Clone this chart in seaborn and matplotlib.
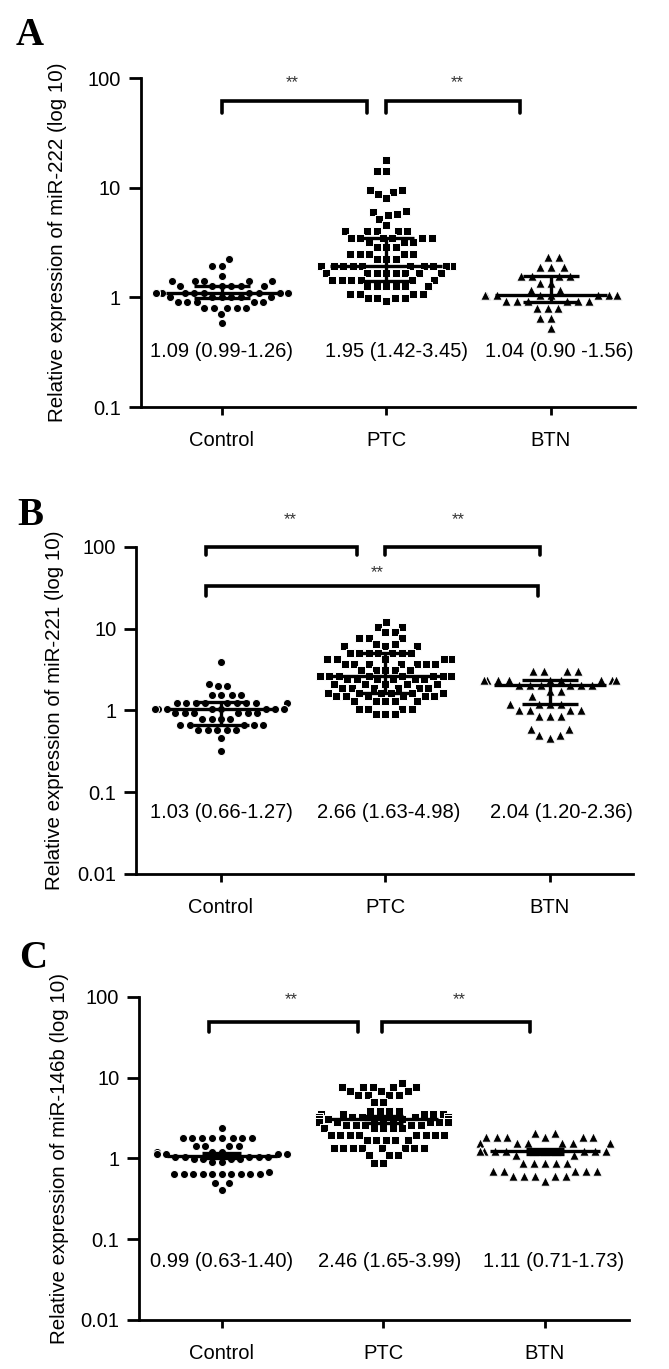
import numpy as np
import pandas as pd
import matplotlib
matplotlib.use("Agg")
import matplotlib.pyplot as plt
import seaborn as sns
from matplotlib.ticker import FixedLocator, FixedFormatter, NullLocator

# ---------------- data ----------------
groups = ["Control", "PTC", "BTN"]
markers = ["o", "s", "^"]

A_control = [2.22, 1.95, 1.95, 1.58, 1.41, 1.41, 1.41, 1.41, 1.41,
             1.28, 1.28, 1.28, 1.28, 1.28, 1.28,
             1.09, 1.09, 1.09, 1.09, 1.09, 1.09, 1.09, 1.09, 1.09, 1.09, 1.09, 1.09, 1.09,
             1.0, 1.0, 1.0, 1.0, 1.0, 1.0, 0.9, 0.9, 0.9, 0.9, 0.9,
             0.8, 0.8, 0.8, 0.8, 0.8, 0.7, 0.58]
A_ptc = [17.9, 14.3, 14.3, 9.6, 9.6, 9.2, 8.7, 8.0, 6.1, 6.0, 5.8, 5.6, 5.2, 4.6,
         4.0, 4.0, 4.0, 4.0, 4.0, 3.45, 3.45, 3.45, 3.45, 3.45, 3.45,
         3.2, 3.2, 3.2, 2.9, 2.9, 2.9, 2.5, 2.5, 2.5, 2.5, 2.5, 2.25, 2.25, 2.25,
         1.95, 1.95, 1.95, 1.95, 1.95, 1.95, 1.95, 1.95, 1.95, 1.95, 1.95, 1.95, 1.95,
         1.66, 1.66, 1.66, 1.66, 1.66, 1.66, 1.66, 1.66,
         1.45, 1.45, 1.45, 1.45, 1.45, 1.45, 1.27, 1.27, 1.27, 1.27, 1.27, 1.27,
         1.08, 1.08, 1.08, 1.08, 0.99, 0.99, 0.99, 0.99, 0.93]
A_btn = [2.35, 2.35, 1.9, 1.9, 1.9, 1.56, 1.56, 1.56, 1.56, 1.34, 1.34, 1.17, 1.17,
         1.04, 1.04, 1.04, 1.04, 1.04, 1.04, 1.04, 1.04, 1.04, 1.04,
         0.92, 0.92, 0.92, 0.92, 0.92, 0.92, 0.8, 0.8, 0.8, 0.65, 0.65, 0.52]

B_control = [3.9, 2.13, 1.98, 1.98, 1.56, 1.56, 1.56, 1.56,
             1.25, 1.25, 1.25, 1.25, 1.25, 1.25, 1.25, 1.25, 1.25,
             1.03, 1.03, 1.03, 1.03, 1.03, 1.03, 1.03, 1.03,
             0.92, 0.92, 0.92, 0.92, 0.92, 0.92, 0.79, 0.79, 0.79, 0.79,
             0.66, 0.66, 0.66, 0.66, 0.66, 0.58, 0.58, 0.58, 0.58, 0.58, 0.46, 0.32]
B_ptc = [12.0, 10.5, 10.5, 9.0, 9.0, 7.6, 7.6, 7.6, 6.5, 6.5, 6.1, 6.1, 6.1,
         4.98, 4.98, 4.98, 4.98, 4.98, 4.98, 4.98, 4.2, 4.2, 4.2, 4.2, 4.2,
         3.7, 3.7, 3.7, 3.7, 3.7, 3.7, 3.7, 3.1, 3.1, 3.1, 3.1, 3.1,
         2.66, 2.66, 2.66, 2.66, 2.66, 2.66, 2.66, 2.66, 2.66, 2.66,
         2.4, 2.4, 2.4, 2.4, 2.4, 2.4, 2.1, 2.1, 2.1, 2.1, 2.1,
         1.9, 1.9, 1.9, 1.9, 1.9, 1.9, 1.63, 1.63, 1.63, 1.63, 1.63, 1.63,
         1.5, 1.5, 1.5, 1.5, 1.5, 1.5, 1.3, 1.3, 1.3, 1.3, 1.3,
         1.05, 1.05, 1.05, 1.05, 0.9, 0.9, 0.9]
B_btn = [3.0, 3.0, 3.0, 3.0, 2.36, 2.36, 2.36, 2.36, 2.36, 2.36, 2.36, 2.36, 2.36,
         2.04, 2.04, 2.04, 2.04, 2.04, 2.04, 1.75, 1.75, 1.5,
         1.2, 1.2, 1.2, 1.2, 1.0, 1.0, 1.0, 1.0, 0.85, 0.85, 0.85,
         0.6, 0.6, 0.5, 0.5, 0.46]

C_control = [2.35, 1.8, 1.8, 1.8, 1.8, 1.8, 1.8, 1.8, 1.8, 1.42, 1.42, 1.42, 1.42,
             1.2, 1.2, 1.2, 1.12, 1.12, 1.12, 1.12, 1.05, 1.05, 1.05, 1.05, 1.05,
             0.98, 0.98, 0.98, 0.98, 0.9, 0.9, 0.68,
             0.64, 0.64, 0.64, 0.64, 0.64, 0.64, 0.64, 0.64, 0.64, 0.64,
             0.49, 0.49, 0.41]
C_ptc = [8.5, 7.7, 7.7, 7.7, 7.7, 7.7, 6.8, 6.8, 6.8, 6.1, 6.1, 6.1, 6.1, 5.0, 5.0,
         3.86, 3.86, 3.86, 3.86, 3.6, 3.6, 3.6, 3.6, 3.6, 3.3, 3.3, 3.3, 3.3, 3.3, 3.3,
         3.05, 3.05, 3.05, 3.05, 3.05, 3.05, 3.05, 2.8, 2.8, 2.8, 2.8, 2.8, 2.8,
         2.6, 2.6, 2.6, 2.6, 2.6, 2.35, 2.35, 2.35, 2.35, 2.35,
         1.95, 1.95, 1.95, 1.95, 1.95, 1.95, 1.95, 1.95, 1.69, 1.69, 1.69, 1.69, 1.69,
         1.33, 1.33, 1.33, 1.33, 1.33, 1.33, 1.33, 1.33, 1.1, 1.1, 1.1, 0.89, 0.89]
C_btn = [2.04, 2.04, 1.82, 1.82, 1.82, 1.82, 1.82, 1.82,
         1.55, 1.55, 1.55, 1.55, 1.55, 1.55, 1.55,
         1.22, 1.22, 1.22, 1.22, 1.22, 1.22, 1.22, 1.22, 1.22, 1.22, 1.1, 1.1,
         0.87, 0.87, 0.87, 0.87, 0.87, 0.7, 0.7, 0.7, 0.7, 0.7,
         0.6, 0.6, 0.6, 0.6, 0.6, 0.53]

A_center = [1.09, 1.95, 1.04]; A_low = [0.99, 1.42, 0.90]; A_high = [1.26, 3.45, 1.56]
B_center = [1.03, 2.66, 2.04]; B_low = [0.66, 1.63, 1.20]; B_high = [1.27, 4.98, 2.36]
C_center = [1.08, 3.05, 1.22]; C_low = [1.0, 2.75, 1.15]; C_high = [1.17, 3.4, 1.3]

A_text = ["1.09 (0.99-1.26)", "1.95 (1.42-3.45)", "1.04 (0.90 -1.56)"]
B_text = ["1.03 (0.66-1.27)", "2.66 (1.63-4.98)", "2.04 (1.20-2.36)"]
C_text = ["0.99 (0.63-1.40)", "2.46 (1.65-3.99)", "1.11 (0.71-1.73)"]

A_ylabel = "Relative expression of miR-222 (log 10)"
B_ylabel = "Relative expression of miR-221 (log 10)"
C_ylabel = "Relative expression of miR-146b (log 10)"

A_yticks = [0.1, 1, 10, 100]; A_yticklabels = ["0.1", "1", "10", "100"]
BC_yticks = [0.01, 0.1, 1, 10, 100]; BC_yticklabels = ["0.01", "0.1", "1", "10", "100"]

# ---------------- style ----------------
sns.set_style("ticks")
plt.rcParams["font.family"] = ["Liberation Sans", "DejaVu Sans"]

fig = plt.figure(figsize=(6.69, 13.69), dpi=100)

panels = [
    dict(letter="A", vals=[A_control, A_ptc, A_btn], center=A_center, low=A_low, high=A_high,
         text=A_text, text_y=0.318, ylabel=A_ylabel, yticks=A_yticks, yticklabels=A_yticklabels,
         ylim=(0.1, 100), rect=[0.211, 0.7027, 0.738, 0.2403], xlim=(-0.49, 2.51),
         letter_xy=(16, 45), ylabel_x=58,
         brackets=[(0.0, 0.88, 61.5, 48), (1.0, 1.81, 61.5, 48)],
         stars=[(0.43, 90), (1.43, 90)], medw=0.34, iqrw=0.17),
    dict(letter="B", vals=[B_control, B_ptc, B_btn], center=B_center, low=B_low, high=B_high,
         text=B_text, text_y=0.0557, ylabel=B_ylabel, yticks=BC_yticks, yticklabels=BC_yticklabels,
         ylim=(0.01, 100), rect=[0.204, 0.3616, 0.742, 0.2389], xlim=(-0.514, 2.505),
         letter_xy=(17, 525), ylabel_x=55,
         brackets=[(-0.09, 0.83, 100, 79), (1.0, 1.94, 100, 79), (-0.09, 1.93, 33, 25)],
         stars=[(0.42, 214), (1.44, 214), (0.95, 48)], medw=0.34, iqrw=0.17),
    dict(letter="C", vals=[C_control, C_ptc, C_btn], center=C_center, low=C_low, high=C_high,
         text=C_text, text_y=0.0527, ylabel=C_ylabel, yticks=BC_yticks, yticklabels=BC_yticklabels,
         ylim=(0.01, 100), rect=[0.2085, 0.0358, 0.7317, 0.2360], xlim=(-0.51, 2.52),
         letter_xy=(19, 968), ylabel_x=60,
         brackets=[(-0.08, 0.84, 49, 37), (0.99, 1.91, 49, 37)],
         stars=[(0.43, 92), (1.47, 92)], medw=0.34, iqrw=0.12),
]
text_x = [[0.0, 1.06, 2.05], [0.0, 1.02, 2.07], [0.0, 1.04, 2.05]]

W, H = 669, 1369
for pi, p in enumerate(panels):
    ax = fig.add_axes(p["rect"])
    ax.set_yscale("log")
    ax.set_ylim(*p["ylim"])
    frames = []
    for g, v in zip(groups, p["vals"]):
        frames.append(pd.DataFrame({"group": g, "value": v}))
    df = pd.concat(frames, ignore_index=True)
    for g, m in zip(groups, markers):
        sub = df[df["group"] == g]
        sns.swarmplot(data=sub, x="group", y="value", order=groups, marker=m,
                      color="black", size=6.8 if m == "^" else 5.8,
                      edgecolor="white", linewidth=0.7,
                      ax=ax, zorder=3, warn_thresh=1)
    ax.set_xlim(*p["xlim"])
    ax.set_ylim(*p["ylim"])
    # median / IQR lines
    for i in range(3):
        ax.hlines(p["center"][i], i - p["medw"], i + p["medw"], color="black", lw=2.4, zorder=4)
        ax.hlines([p["low"][i], p["high"][i]], i - p["iqrw"], i + p["iqrw"], color="black",
                  lw=2.4, zorder=4)
        ax.vlines(i, p["low"][i], p["high"][i], color="black", lw=2.4, zorder=4)
        ax.text(text_x[pi][i], p["text_y"], p["text"][i], ha="center", va="center",
                fontsize=14.5, color="black")
    # brackets
    for (x0, x1, ytop, yend) in p["brackets"]:
        ax.plot([x0, x0, x1, x1], [yend, ytop, ytop, yend], color="black", lw=2.6,
                solid_joinstyle="miter", clip_on=False, zorder=5)
    for (sx, sy) in p["stars"]:
        ax.text(sx, sy, "**", ha="center", va="center", fontsize=12, color="#333333",
                clip_on=False)
    # axes styling
    sns.despine(ax=ax)
    for s in ["left", "bottom"]:
        ax.spines[s].set_linewidth(2.0)
        ax.spines[s].set_color("black")
    ax.yaxis.set_major_locator(FixedLocator(p["yticks"]))
    ax.yaxis.set_major_formatter(FixedFormatter(p["yticklabels"]))
    ax.yaxis.set_minor_locator(NullLocator())
    ax.tick_params(axis="y", length=8.5, width=2.0, pad=6, labelsize=14.5, colors="black")
    ax.tick_params(axis="x", length=6, width=2.0, pad=11, labelsize=14.5, colors="black")
    ax.set_xlabel("")
    ax.set_ylabel("")
    fig.text(p["ylabel_x"] / W, p["rect"][1] + p["rect"][3] / 2,
             p["ylabel"], rotation=90, ha="center", va="center", fontsize=14.8, color="black")
    fig.text(p["letter_xy"][0] / W, 1 - p["letter_xy"][1] / H, p["letter"],
             fontfamily=["Liberation Serif", "DejaVu Serif"], fontweight="bold", fontsize=28,
             ha="left", va="baseline", color="black")

fig.savefig("out.png", dpi=100)
